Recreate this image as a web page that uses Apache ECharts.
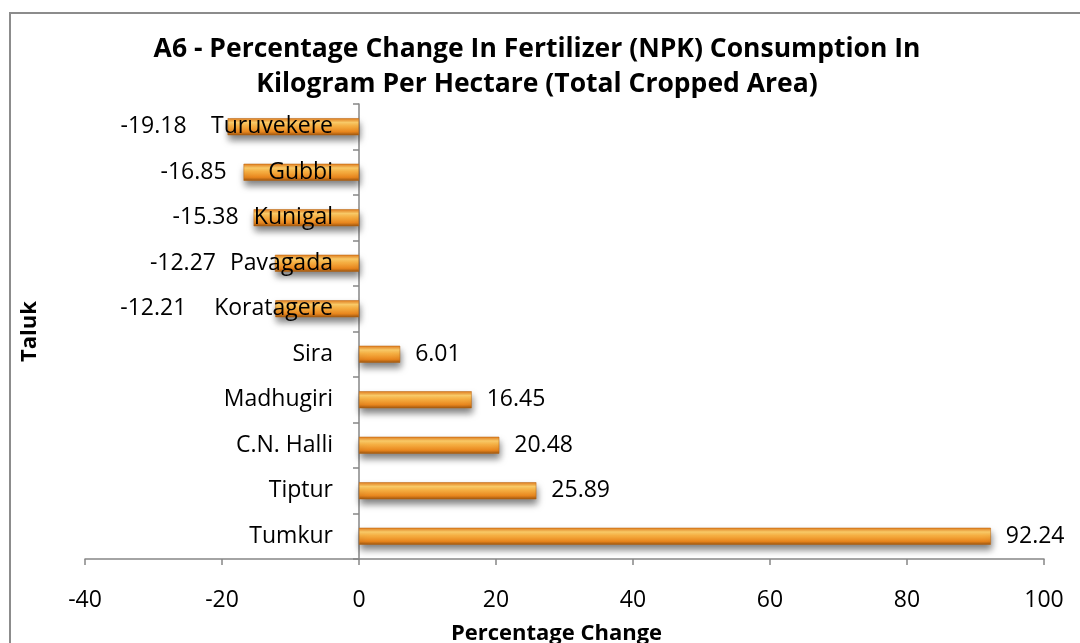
<!DOCTYPE html>
<html><head><meta charset="utf-8">
<script src="https://cdn.jsdelivr.net/npm/echarts@6/dist/echarts.min.js"></script>
<style>html,body{margin:0;padding:0;background:#fff}#c{width:1080px;height:643px}</style>
</head><body><div id="c"></div>
<script>
const categories = ['Tumkur','Tiptur','C.N. Halli','Madhugiri','Sira','Koratagere','Pavagada','Kunigal','Gubbi','Turuvekere'];
const values = [92.24, 25.89, 20.48, 16.45, 6.01, -12.21, -12.27, -15.38, -16.85, -19.18];
const xTicks = {min: -40, max: 100, interval: 20};
// extra horizontal shift of negative value labels (Excel moves them clear of the category text)
const labelShift = {'Koratagere': -76, 'Pavagada': -46, 'Kunigal': -2, 'Gubbi': -4, 'Turuvekere': -28};
const FONT = 'Open Sans';
const FS = 23;
const chart = echarts.init(document.getElementById('c'));
const grad = new echarts.graphic.LinearGradient(0,0,0,1,[
  {offset:0,color:'#e07a1c'},{offset:0.25,color:'#ffcf6a'},{offset:0.45,color:'#fbb445'},
  {offset:0.8,color:'#e8861e'},{offset:1,color:'#9a5410'}]);
chart.setOption({
  animation:false,
  graphic:[{type:'rect',shape:{x:10,y:13,width:1200,height:800},style:{fill:'none',stroke:'#8c8c8c',lineWidth:2}}],
  title:{text:'A6 - Percentage Change In Fertilizer (NPK) Consumption In\nKilogram Per Hectare (Total Cropped Area)',left:532,textAlign:'center',top:27,
    textStyle:{fontFamily:FONT,fontWeight:'bold',fontSize:26.5,lineHeight:35,color:'#000'}},
  grid:{left:85,right:36,top:104,bottom:84,containLabel:false,outerBoundsMode:'none'},
  xAxis:{type:'value',min:xTicks.min,max:xTicks.max,interval:xTicks.interval,
    name:'Percentage Change',nameLocation:'middle',nameGap:64,
    nameTextStyle:{fontFamily:FONT,fontWeight:'bold',fontSize:22,color:'#000',padding:[0,16,0,0]},
    axisLine:{show:true,lineStyle:{color:'#868686',width:1.5}},
    axisTick:{show:true,length:6,lineStyle:{color:'#868686',width:1.5}},
    splitLine:{show:false},
    axisLabel:{fontFamily:FONT,fontSize:FS,color:'#000',margin:30}},
  yAxis:{type:'category',data:categories,
    name:'Taluk',nameLocation:'middle',nameGap:44,nameRotate:90,
    nameTextStyle:{fontFamily:FONT,fontWeight:'bold',fontSize:22,color:'#000'},
    axisLine:{onZero:true,lineStyle:{color:'#868686',width:1.5}},
    axisTick:{show:true,length:6,lineStyle:{color:'#868686',width:1.5}},
    axisLabel:{show:false}},
  series:[{type:'bar',barWidth:17,z:1,
    data:values.map((v,i)=>({value:v,label:{position:v<0?'left':'right',distance:v<0?13:15,offset:[labelShift[categories[i]]||0,0]}})),
    itemStyle:{color:grad,borderColor:'#b9640f',borderWidth:0.5,shadowColor:'rgba(0,0,0,0.5)',shadowBlur:7,shadowOffsetY:5,shadowOffsetX:1},
    label:{show:true,fontFamily:FONT,fontSize:FS,color:'#000',formatter:p=>p.value.toFixed(2)}},
   {type:'scatter',z:5,symbolSize:0,silent:true,
    itemStyle:{opacity:1},
    data:categories.map(c=>[0,c]),
    label:{show:true,position:'left',distance:26,fontFamily:FONT,fontSize:FS,color:'#000',opacity:1,formatter:p=>p.value[1]}}]
});
</script></body></html>
